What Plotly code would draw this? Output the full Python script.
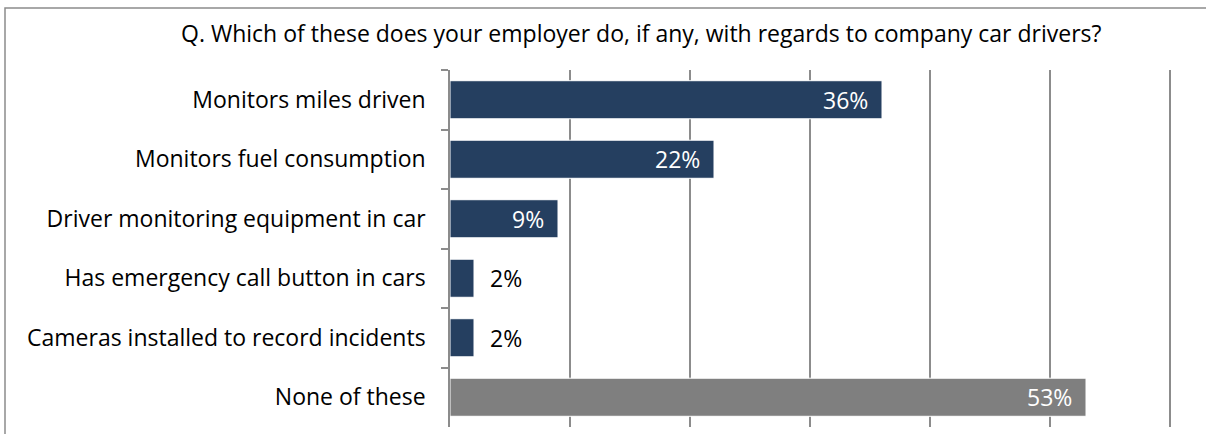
import plotly.graph_objects as go

categories = [
    "Monitors miles driven",
    "Monitors fuel consumption",
    "Driver monitoring equipment in car",
    "Has emergency call button in cars",
    "Cameras installed to record incidents",
    "None of these",
]
values = [36, 22, 9, 2, 2, 53]
bar_colors = ["#253F60", "#253F60", "#253F60", "#253F60", "#253F60", "#7F7F7F"]
label_text = [f"{v}%" for v in values]
title_text = "Q. Which of these does your employer do, if any, with regards to company car drivers?"

W, H = 1206, 434
ML, MR, MT, MB = 450, 30, 70, 7
X_MAX = 60.5
FONT = "'Open Sans', sans-serif"
FS = 23
GRID = "#8C8C8C"

fig = go.Figure(
    go.Bar(
        x=values,
        y=categories,
        orientation="h",
        marker=dict(color=bar_colors, line=dict(color="white", width=1)),
        width=0.64,
        hoverinfo="x+y",
    )
)

pw = W - ML - MR
ph = H - MT - MB

# value labels: white inside the end of long bars, black just past short ones
annotations = []
for cat, v, txt in zip(categories, values, label_text):
    inside = v >= 5
    annotations.append(
        dict(
            x=v,
            y=cat,
            xref="x",
            yref="y",
            text=txt,
            showarrow=False,
            xanchor="right" if inside else "left",
            xshift=-12 if inside else 14,
            yanchor="middle",
            font=dict(family=FONT, size=FS, color="white" if inside else "black"),
        )
    )

annotations.append(
    dict(
        text=title_text,
        xref="paper",
        yref="paper",
        x=(641 - ML) / pw,
        y=(H - MB - 33) / ph,
        xanchor="center",
        yanchor="middle",
        showarrow=False,
        font=dict(family=FONT, size=FS, color="black"),
    )
)

fig.update_layout(
    width=W,
    height=H,
    margin=dict(l=ML, r=MR, t=MT, b=MB, pad=0),
    paper_bgcolor="white",
    plot_bgcolor="white",
    showlegend=False,
    font=dict(family=FONT, size=FS, color="black"),
    xaxis=dict(
        range=[0, X_MAX],
        tickvals=[10, 20, 30, 40, 50, 60],
        showgrid=True,
        gridcolor=GRID,
        gridwidth=1.5,
        showticklabels=False,
        zeroline=False,
        showline=False,
        fixedrange=True,
    ),
    yaxis=dict(
        autorange="reversed",
        type="category",
        tickson="boundaries",
        ticks="outside",
        ticklen=7,
        tickcolor=GRID,
        tickwidth=1.5,
        showline=True,
        linecolor=GRID,
        linewidth=1.5,
        showgrid=False,
        ticklabelstandoff=18,
        tickfont=dict(family=FONT, size=FS, color="black"),
        fixedrange=True,
    ),
    annotations=annotations,
    shapes=[
        # chart frame, running off the right and bottom edges
        dict(
            type="rect",
            xref="paper",
            yref="paper",
            x0=(5 - ML) / pw,
            x1=(W + 20 - ML) / pw,
            y0=(H - MB - (H + 20)) / ph,
            y1=(H - MB - 8) / ph,
            line=dict(color=GRID, width=1.5),
            fillcolor="rgba(0,0,0,0)",
            layer="below",
        )
    ],
)

fig.write_html("out.html")
